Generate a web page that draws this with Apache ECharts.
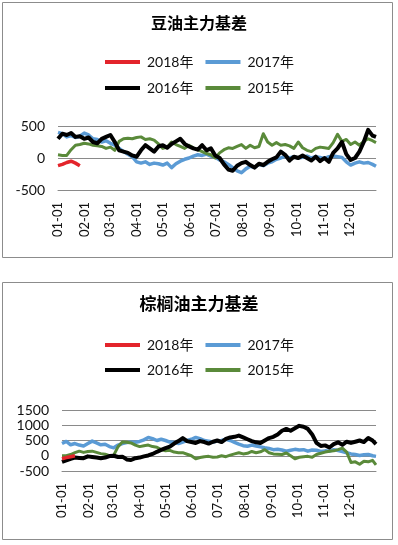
<!DOCTYPE html>
<html>
<head>
<meta charset="utf-8">
<script src="https://cdn.jsdelivr.net/npm/echarts@6/dist/echarts.min.js"></script>
<style>
html,body{margin:0;padding:0;background:#fff;}
#c{width:398px;height:545px;}
</style>
</head>
<body>
<div id="c"></div>
<script>
// ---- data ----
const monthDays = [31,28,31,30,31,30,31,31,30,31,30,31];
const seriesNames = ['2018年','2017年','2016年','2015年'];
const titles = ['豆油主力基差','棕榈油主力基差'];
const yTicksTop = [-500, 0, 500];
const yTicksBottom = [-500, 0, 500, 1000, 1500];
// day-of-year of each sampled point
const sampleDays = [0,5,10,15,20,25,30,35,40,45,50,55,60,65,70,75,80,85,90,95,100,105,110,115,120,125,130,135,140,145,150,155,160,165,170,175,180,185,190,195,200,205,210,215,220,225,230,235,240,245,250,255,260,265,270,275,280,285,290,295,300,305,310,315,320,325,330,335,340,345,350,355,360,364];

// 豆油主力基差
const soy2018 = [-120,-100,-70,-50,-80,-120];
const soy2017 = [400,380,330,350,320,340,390,360,300,290,250,270,230,200,150,100,60,20,-60,-80,-60,-100,-80,-90,-110,-80,-150,-90,-50,-20,0,30,50,40,60,30,10,-30,-60,-100,-150,-200,-230,-170,-130,-150,-100,-120,-80,-60,-20,0,30,0,20,0,10,30,0,20,10,-10,20,30,20,10,-60,-110,-80,-60,-80,-70,-100,-130];
const soy2016 = [300,380,360,390,330,340,300,320,250,230,300,330,360,250,120,100,80,40,20,120,200,150,100,180,200,160,220,260,300,220,180,150,130,200,120,150,40,0,-100,-180,-200,-120,-80,-60,-110,-150,-90,-110,-60,-20,10,100,50,-40,20,0,40,0,-40,20,-50,0,-60,80,150,250,60,-30,0,100,250,440,350,330];
const soy2015 = [50,40,40,130,200,210,230,220,200,190,180,150,170,120,260,300,310,300,320,330,290,300,280,220,150,170,250,210,180,150,200,160,130,100,70,50,0,80,130,160,150,180,210,150,200,160,180,380,250,200,240,200,210,190,150,250,160,120,100,150,170,160,150,240,370,260,290,210,250,200,260,300,270,240];

// 棕榈油主力基差
const palm2018 = [-100,-60,-30,0];
const palm2017 = [400,470,360,400,350,320,400,480,420,360,380,300,260,350,400,430,450,440,470,520,600,560,500,540,500,450,440,400,450,500,540,600,560,500,480,450,480,500,540,500,440,380,330,310,350,320,290,260,240,200,210,190,150,180,210,190,200,150,190,180,140,160,150,200,170,140,100,60,40,10,30,40,0,-20];
const palm2016 = [-200,-150,-100,-60,-70,-80,-20,-40,-60,-80,-60,-10,0,-40,-30,-120,-140,-80,-60,-20,10,60,130,190,250,300,400,480,580,480,450,420,480,450,400,460,500,450,550,600,620,660,600,540,480,440,420,500,580,620,700,820,880,820,900,980,950,880,700,420,320,340,270,380,440,360,460,420,460,500,450,580,500,380];
const palm2015 = [0,0,40,100,150,110,140,150,110,70,50,0,20,300,450,440,420,350,300,330,350,300,280,200,160,180,120,100,100,50,0,-100,-60,-30,-20,-50,-40,0,-30,20,60,100,60,80,140,100,130,200,100,60,50,40,90,0,-100,-50,-30,-20,-50,40,80,120,150,160,200,250,120,-220,-200,-280,-180,-200,-150,-300];

// ---- build categories ----
const dayLabels = [];
monthDays.forEach((n, m) => {
  for (let d = 1; d <= n; d++) {
    dayLabels.push(String(m + 1).padStart(2, '0') + '-' + String(d).padStart(2, '0'));
  }
});
function pts(vals) { return vals.map((v, i) => [dayLabels[sampleDays[i]], v]); }

const colors = {'2018年':'#e3242b','2017年':'#5b9bd5','2016年':'#000000','2015年':'#5a8a3a'};
const widths = {'2018年':3.5,'2017年':3.5,'2016年':4,'2015年':3};
const FONT = 'Lato, "Noto Sans CJK SC", sans-serif';

function xAxisFor(gi) {
  return {
    type: 'category', gridIndex: gi, data: dayLabels, boundaryGap: false,
    axisLine: {show: true, onZero: false, lineStyle: {color: '#8a8a8a', width: 1}},
    axisTick: {show: false},
    splitLine: {show: false},
    axisLabel: {
      rotate: 90, fontSize: 13, fontFamily: FONT, color: '#111', margin: 12,
      interval: (idx, val) => val.slice(3) === '01'
    }
  };
}
function yAxisFor(gi, ticks) {
  return {
    type: 'value', gridIndex: gi, min: ticks[0], max: ticks[ticks.length - 1], interval: 500,
    axisLine: {show: false}, axisTick: {show: false},
    splitLine: {show: true, lineStyle: {color: '#8a8a8a', width: 1}},
    axisLabel: {fontSize: 14, fontFamily: FONT, color: '#111', margin: 13, formatter: v => String(v)}
  };
}
function lineSeries(name, vals, gi) {
  return {
    name: name, type: 'line', xAxisIndex: gi, yAxisIndex: gi, data: pts(vals),
    symbol: 'none', smooth: false, animation: false,
    lineStyle: {color: colors[name], width: widths[name], join: 'round'},
    itemStyle: {color: colors[name]}
  };
}
function legendFor(names, top) {
  return {
    data: names, top: top, left: 105, padding: 0, itemWidth: 35, itemHeight: 4, itemGap: 12,
    icon: 'rect', selectedMode: false,
    textStyle: {fontSize: 14, fontFamily: FONT, color: '#111', padding: [0, 0, 0, 2], lineHeight: 16}
  };
}

const option = {
  animation: false,
  backgroundColor: '#fff',
  graphic: [
    {type: 'rect', shape: {x: 2.5, y: 2.5, width: 390, height: 255}, style: {fill: 'none', stroke: '#8c8c8c', lineWidth: 1}},
    {type: 'rect', shape: {x: 2.5, y: 282.5, width: 390, height: 257}, style: {fill: 'none', stroke: '#8c8c8c', lineWidth: 1}}
  ],
  title: [
    {text: titles[0], left: 'center', top: 15, padding: 0, textStyle: {fontSize: 16, fontWeight: 'bold', fontFamily: '"Noto Sans CJK SC", sans-serif', color: '#000'}},
    {text: titles[1], left: 'center', top: 295, padding: 0, textStyle: {fontSize: 17, fontWeight: 'bold', fontFamily: '"Noto Sans CJK SC", sans-serif', color: '#000'}}
  ],
  legend: [
    legendFor([seriesNames[0], seriesNames[1]], 54),
    legendFor([seriesNames[2], seriesNames[3]], 80),
    legendFor([seriesNames[0], seriesNames[1]], 337),
    legendFor([seriesNames[2], seriesNames[3]], 362)
  ],
  grid: [
    {left: 58, right: 22, top: 126, bottom: 355, containLabel: false},
    {left: 62, right: 22, top: 410, bottom: 74, containLabel: false}
  ],
  xAxis: [xAxisFor(0), xAxisFor(1)],
  yAxis: [yAxisFor(0, yTicksTop), yAxisFor(1, yTicksBottom)],
  series: [
    lineSeries('2017年', soy2017, 0),
    lineSeries('2015年', soy2015, 0),
    lineSeries('2016年', soy2016, 0),
    lineSeries('2018年', soy2018, 0),
    lineSeries('2017年', palm2017, 1),
    lineSeries('2015年', palm2015, 1),
    lineSeries('2016年', palm2016, 1),
    lineSeries('2018年', palm2018, 1)
  ]
};
const chart = echarts.init(document.getElementById('c'), null, {renderer: 'canvas'});
chart.setOption(option);
</script>
</body>
</html>
